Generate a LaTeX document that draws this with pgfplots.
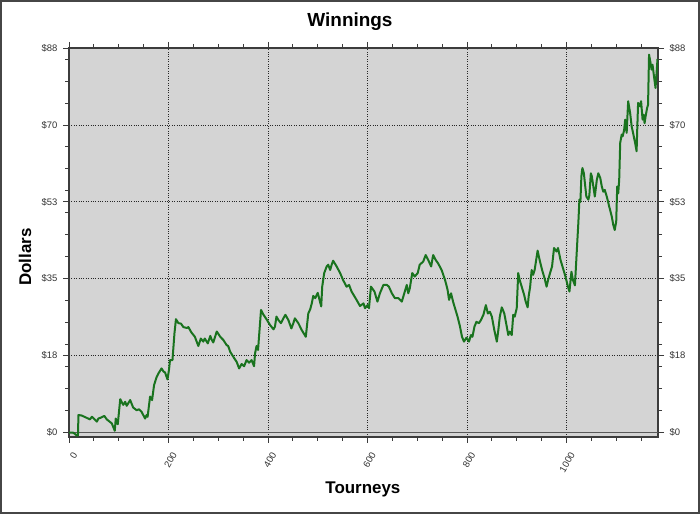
\documentclass[border=0pt]{standalone}
\usepackage{fontspec}
\setmainfont{Liberation Sans}
\usepackage{pgfplots}
\pgfplotsset{compat=1.18}
\usepackage{pgfplotstable}
\definecolor{bgGray}{RGB}{212,212,212}
\definecolor{lineGreen}{RGB}{25,115,30}
\definecolor{frameGray}{RGB}{70,70,70}
\definecolor{axGray}{RGB}{60,60,60}

\pgfplotstableread{
t v
0 0
8 0
12 -0.3
16 -0.7
18 -0.7
19 4.0
25 3.9
33 3.5
42 3.0
46 3.6
50 3.2
56 2.5
59 3.2
64 3.4
71 3.8
76 3.0
86 2.1
92 0.4
94 3.2
98 1.9
103 7.6
109 6.3
113 7.0
116 6.1
123 7.4
129 5.7
136 5.1
141 5.3
146 4.7
153 3.2
156 4.0
158 3.6
163 8.2
167 7.4
171 10.8
176 12.6
180 13.5
186 14.6
190 13.9
193 13.7
198 12.1
201 14.3
203 16.5
208 16.5
212 22.6
215 25.8
220 24.9
225 24.8
230 24.0
237 23.8
240 24.0
246 22.8
253 21.8
260 19.7
265 21.4
270 20.7
273 21.4
279 20.3
284 22.0
287 21.1
290 20.5
297 23.0
304 21.8
310 21.1
317 19.9
320 19.7
324 18.4
330 17.3
337 16.1
342 14.6
347 15.6
352 15.1
357 16.5
362 15.9
367 16.5
372 15.1
374 18.0
377 19.7
380 18.8
386 27.9
391 26.8
397 25.8
404 24.5
411 23.5
414 24.1
417 26.4
421 25.6
426 24.9
431 26.0
435 26.8
441 25.6
447 23.7
451 24.9
454 26.0
461 24.9
468 23.3
476 21.8
481 27.1
485 28.1
488 29.4
491 31.1
495 30.6
500 31.8
507 28.7
509 33.2
513 36.3
518 37.8
521 38.2
525 37.0
528 38.2
531 39.1
538 37.8
545 36.3
551 34.7
558 33.2
563 33.6
568 32.1
578 30.2
585 28.8
592 29.4
595 28.3
600 29.0
603 28.3
607 33.2
614 32.1
620 29.8
625 31.7
632 33.6
639 33.6
643 33.2
649 31.7
655 30.6
662 30.6
669 29.8
674 31.7
679 33.6
682 31.7
685 32.8
690 36.3
695 35.5
701 36.3
705 38.2
712 38.9
717 40.4
722 39.3
728 37.8
732 40.4
737 39.3
742 38.5
749 37.0
756 34.7
761 32.5
764 30.2
768 31.7
772 29.8
777 27.9
781 26.4
786 24.1
790 21.8
794 20.7
799 21.6
804 20.7
808 22.2
811 21.8
815 24.1
819 25.2
824 24.9
828 25.6
833 26.8
838 29.0
842 27.1
846 27.5
850 26.4
855 23.3
860 20.7
863 23.3
866 26.4
870 28.5
875 27.1
880 24.1
883 22.2
886 23.0
890 22.2
893 26.8
896 26.4
900 28.3
903 36.3
906 34.7
910 33.2
915 31.3
918 29.8
922 28.5
924 31.0
927 33.2
930 37.0
933 35.9
936 37.0
942 41.4
946 39.3
951 37.0
956 35.1
960 33.2
963 34.7
966 35.9
971 37.8
975 42.0
980 41.2
983 42.0
988 39.3
993 37.4
998 35.5
1003 33.2
1006 32.1
1010 36.6
1013 34.7
1017 33.5
1022 43.9
1024 48.0
1026 53.0
1028 52.5
1030 58.3
1032 60.2
1035 59.0
1037 56.8
1040 53.7
1044 53.0
1046 54.0
1049 59.0
1051 58.3
1054 56.0
1057 53.7
1061 57.5
1064 59.0
1068 57.9
1071 56.0
1074 54.8
1077 55.2
1081 53.7
1086 51.4
1091 49.2
1094 47.3
1097 46.1
1100 48.0
1102 56.0
1104 54.4
1106 57.5
1108 65.9
1111 67.8
1113 67.4
1116 68.9
1118 71.2
1121 68.2
1124 75.4
1128 72.7
1131 69.7
1134 68.1
1138 65.9
1141 64.0
1142 68.1
1144 75.0
1148 74.2
1150 75.4
1153 71.2
1155 72.3
1157 70.4
1159 71.9
1162 73.8
1164 74.6
1166 86.0
1169 84.1
1171 82.6
1173 83.7
1176 81.0
1179 78.4
1181 81.6
1183 85.0
}\winnings

\begin{document}
\begin{tikzpicture}
\begin{axis}[
  scale only axis,
  width=589bp, height=389bp,
  xmin=0, xmax=1184,
  ymin=-1, ymax=87.5,
  axis background/.style={fill=bgGray},
  axis line style={draw=axGray, line width=1.2bp},
  xtick={0,200,...,1000},
  minor xtick={50,100,...,1150},
  /pgf/number format/assume math mode=true,
  /pgf/number format/set thousands separator={},
  ytick={0,17.5,35,52.5,70,87.5},
  yticklabels={\$0,\$18,\$35,\$53,\$70,\$88},
  minor ytick={5,10,...,85},
  tick align=outside,
  major tick length=6bp,
  minor tick length=4bp,
  tick style={draw=axGray, line width=0.8bp},
  xmajorgrids, ymajorgrids,
  major grid style={dotted, black!85, line width=0.7bp},
  ticklabel style={font=\fontsize{9.5}{11}\selectfont, text=black!80},
  xticklabel style={xshift=6bp, yshift=-10bp, rotate=60, anchor=east, inner sep=0pt},
  yticklabel style={xshift=-2bp},
  title={Winnings},
  title style={at={(axis description cs:0.477,1.041)}, anchor=base, font=\fontsize{19}{22}\selectfont\bfseries},
  xlabel={Tourneys},
  xlabel style={at={(axis description cs:0.499,-0.144)}, anchor=base, font=\fontsize{17}{20}\selectfont\bfseries},
  ylabel={Dollars},
  ylabel style={at={(axis description cs:-0.0645,0.4627)}, anchor=base, rotate=0, font=\fontsize{17}{20}\selectfont\bfseries},
]
\addplot[draw=gray!70!black, line width=1bp, forget plot] coordinates {(0,0) (1184,0)};
\addplot[color=lineGreen, line width=2bp, line join=round] table[x=t, y=v] {\winnings};
\coordinate (sw) at (rel axis cs:0,0);
\coordinate (ne) at (rel axis cs:1,1);
\end{axis}
\begin{axis}[
  scale only axis,
  width=589bp, height=389bp,
  xmin=0, xmax=1184,
  ymin=-1, ymax=87.5,
  axis line style={draw=none},
  xtick=\empty,
  ytick={0,17.5,35,52.5,70,87.5},
  yticklabels={\$0,\$18,\$35,\$53,\$70,\$88},
  yticklabel pos=right,
  major tick length=0pt,
  ticklabel style={font=\fontsize{9.5}{11}\selectfont, text=black!80},
  yticklabel style={xshift=8bp},
]
\end{axis}
\draw[frameGray, line width=2bp] ([shift={(-68bp,-76bp)}]sw) rectangle ([shift={(41bp,47bp)}]ne);
\end{tikzpicture}
\end{document}
